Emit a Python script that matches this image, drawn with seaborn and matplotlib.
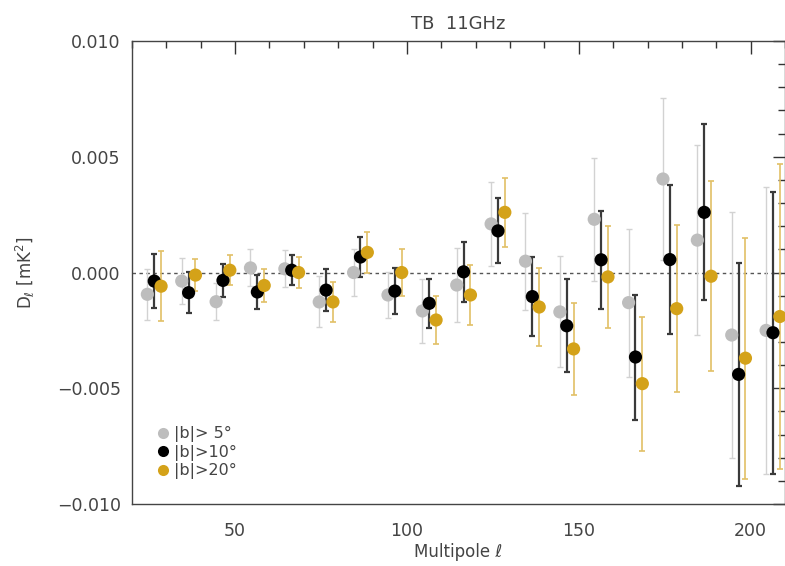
import numpy as np
import pandas as pd
import matplotlib
matplotlib.use("Agg")
import matplotlib.pyplot as plt
from matplotlib.ticker import MultipleLocator, FuncFormatter
from matplotlib.lines import Line2D
import seaborn as sns

# ---------------- data ----------------
ell_b5 = [24.5, 34.5, 44.5, 54.5, 64.5, 74.5, 84.5, 94.5, 104.5, 114.5,
          124.5, 134.5, 144.5, 154.5, 164.5, 174.5, 184.5, 194.5, 204.5]
ell_b10 = [26.5, 36.5, 46.5, 56.5, 66.5, 76.5, 86.5, 96.5, 106.5, 116.5,
           126.5, 136.5, 146.5, 156.5, 166.5, 176.5, 186.5, 196.5, 206.5]
ell_b20 = [28.5, 38.5, 48.5, 58.5, 68.5, 78.5, 88.5, 98.5, 108.5, 118.5,
           128.5, 138.5, 148.5, 158.5, 168.5, 178.5, 188.5, 198.5, 208.5]

dl_b5 = [-0.00094, -0.00037, -0.00126, 0.00020, 0.00016, -0.00127, 0.00000,
         -0.00097, -0.00166, -0.00054, 0.00210, 0.00049, -0.00170, 0.00230,
         -0.00130, 0.00404, 0.00140, -0.00270, -0.00250]
err_b5 = [0.00110, 0.00100, 0.00080, 0.00080, 0.00080, 0.00110, 0.00100,
          0.00100, 0.00140, 0.00160, 0.00180, 0.00210, 0.00240, 0.00265,
          0.00320, 0.00350, 0.00410, 0.00530, 0.00620]

dl_b10 = [-0.00037, -0.00087, -0.00034, -0.00084, 0.00010, -0.00076, 0.00067,
          -0.00080, -0.00133, 0.00003, 0.00180, -0.00104, -0.00230, 0.00055,
          -0.00365, 0.00056, 0.00260, -0.00440, -0.00260]
err_b10 = [0.00115, 0.00088, 0.00073, 0.00075, 0.00066, 0.00090, 0.00085,
           0.00100, 0.00107, 0.00130, 0.00140, 0.00170, 0.00200, 0.00212,
           0.00270, 0.00320, 0.00380, 0.00480, 0.00610]

dl_b20 = [-0.00059, -0.00011, 0.00010, -0.00056, 0.00000, -0.00127, 0.00087,
          0.00000, -0.00205, -0.00097, 0.00260, -0.00149, -0.00330, -0.00019,
          -0.00480, -0.00156, -0.00016, -0.00370, -0.00190]
err_b20 = [0.00150, 0.00070, 0.00066, 0.00070, 0.00067, 0.00085, 0.00090,
           0.00100, 0.00105, 0.00130, 0.00150, 0.00170, 0.00200, 0.00220,
           0.00290, 0.00360, 0.00410, 0.00520, 0.00660]

labels = ["|b|> 5°", "|b|>10°", "|b|>20°"]
colors = ["#bdbdbd", "#000000", "#d4a219"]
bar_colors = ["#d2d2d2", "#3a3a3a", "#e2c066"]
bar_widths = [1.0, 1.6, 1.2]

# ---------------- figure ----------------
sns.set_theme(style="white")
plt.rcParams["font.family"] = ["DejaVu Sans"]
plt.rcParams["mathtext.fontset"] = "dejavusans"

fig = plt.figure(figsize=(7.85, 5.66), dpi=100)
ax = fig.add_axes([0.168, 0.1095, 0.832, 0.818])

frames = []
for lab, x, y, e in zip(labels, [ell_b5, ell_b10, ell_b20],
                        [dl_b5, dl_b10, dl_b20], [err_b5, err_b10, err_b20]):
    frames.append(pd.DataFrame({"ell": x, "dl": y, "err": e, "cut": lab}))
df = pd.concat(frames, ignore_index=True)

ax.axhline(0.0, color="#555555", lw=1.0, ls=(0, (2.5, 2.5)), zorder=1)

for i, lab in enumerate(labels):
    sub = df[df["cut"] == lab]
    ax.errorbar(sub["ell"], sub["dl"], yerr=sub["err"], fmt="none",
                ecolor=bar_colors[i], elinewidth=bar_widths[i], capsize=2.5,
                capthick=bar_widths[i], zorder=2 + i)

sns.scatterplot(data=df, x="ell", y="dl", hue="cut", palette=colors,
                hue_order=labels, s=90, edgecolor="none", linewidth=0,
                legend=False, ax=ax, zorder=6)

ax.set_xlim(20, 210)
ax.set_ylim(-0.010, 0.010)
ax.xaxis.set_major_locator(MultipleLocator(50))
ax.xaxis.set_minor_locator(MultipleLocator(10))
ax.yaxis.set_major_locator(MultipleLocator(0.005))
ax.yaxis.set_minor_locator(MultipleLocator(0.001))
ax.yaxis.set_major_formatter(FuncFormatter(lambda v, p: f"{v:.3f}".replace("-", "\u2212")))
ax.tick_params(which="both", direction="in", top=True, right=True,
               color="#333333", labelsize=12.5, labelcolor="#444444")
ax.tick_params(which="major", length=9, width=1.0, pad=8)
ax.tick_params(axis="x", which="major", pad=13)
ax.tick_params(which="minor", length=5, width=1.0)
for sp in ax.spines.values():
    sp.set_color("#444444")
    sp.set_linewidth(1.0)

ax.set_xlabel("Multipole ℓ", fontsize=12, color="#444444", labelpad=2)
ax.set_ylabel("D$_\\ell$ [mK$^2$]", fontsize=12, color="#444444", labelpad=14)
ax.set_title("TB  11GHz", fontsize=13, color="#444444", pad=9)

handles = [Line2D([0], [0], marker="o", ls="none", markersize=8,
                  markerfacecolor=c, markeredgecolor="none") for c in colors]
ax.legend(handles, labels, loc="lower left", bbox_to_anchor=(0.03, 0.04),
          frameon=False, fontsize=11.5, handlelength=0.6, handletextpad=0.4,
          labelspacing=0.15, borderaxespad=0.0, labelcolor="#444444")

fig.savefig("out.png", dpi=100)
